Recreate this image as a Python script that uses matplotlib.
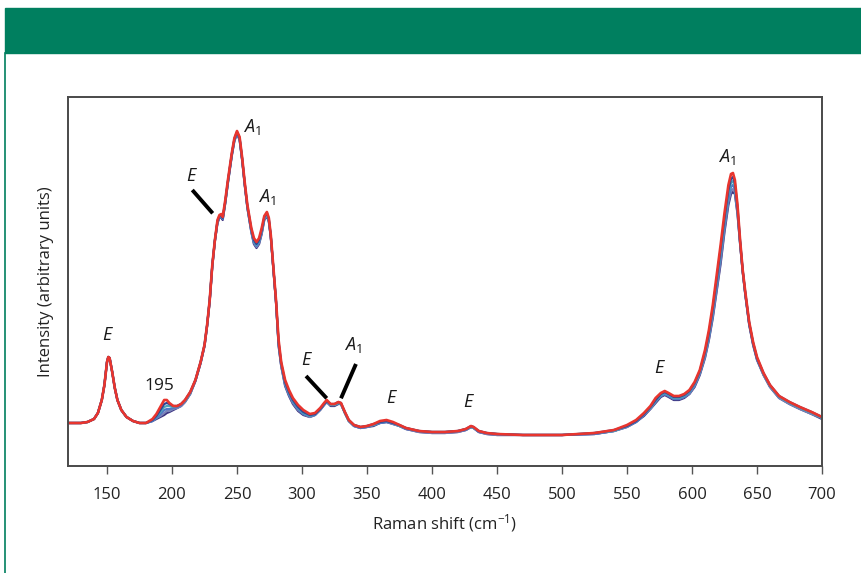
import matplotlib
matplotlib.use("Agg")
import matplotlib.pyplot as plt
from matplotlib.patches import Rectangle
from matplotlib.lines import Line2D

plt.rcParams['font.family'] = ['Open Sans', 'DejaVu Sans']
plt.rcParams['mathtext.fontset'] = 'custom'
plt.rcParams['mathtext.rm'] = 'Open Sans'
plt.rcParams['mathtext.it'] = 'Open Sans:italic'

# Raman shift (cm-1)
shift = [120, 125, 130, 135, 140, 143, 146, 148, 150, 151, 152, 154, 156, 158, 161, 165, 170, 175, 180,
         185, 188, 191, 194, 196, 198, 201, 204, 207, 210, 214,
         218, 222, 225, 227, 229, 231, 233, 235, 236.5, 238, 239, 241, 243, 246, 248, 250, 252, 254, 256, 258,
         261, 263, 265, 267, 269, 271, 273, 274.5,
         276, 278, 280, 282, 284, 287, 290, 293, 297, 301, 306, 310, 314, 317,
         319, 322, 325, 328, 330, 333, 336, 340,
         345, 350, 355, 360, 365, 370, 375, 380, 390, 400, 410, 420, 426, 430, 432, 436, 442, 450,
         470, 500, 525, 540, 550, 557,
         563, 568, 572, 576, 579, 582, 586, 590, 594, 598, 602, 606, 610, 613, 616, 619, 622, 625, 628, 630,
         631.5, 633, 635, 637, 639,
         641, 644, 647, 650, 655, 660, 667, 675, 683, 692, 700]

# intensities (arbitrary units), one list per spectrum
red = [43, 43, 43, 44, 47, 53, 66, 81, 104, 109, 108, 94, 78, 66, 56, 49, 45, 43, 43,
       47, 52, 59, 66, 66, 63, 60, 60, 62, 66, 74,
       86, 104, 121, 141, 166, 201, 226, 246, 251, 252, 249, 266, 286, 313, 328, 335, 329, 308, 283, 261,
       238, 228, 224, 228, 238, 250, 254, 248,
       231, 198, 166, 126, 104, 86, 76, 68, 61, 56, 52, 53, 58, 63,
       66, 62, 62, 64, 63, 54, 46, 41,
       39, 40, 42, 45, 46, 44, 41, 38, 35, 34, 34, 35, 37, 40, 39, 35, 33, 32,
       31, 31, 33, 36, 41, 46,
       53, 60, 68, 73, 75, 73, 70, 70, 72, 76, 84, 96, 116, 136, 161, 191, 221, 253, 281, 292,
       293, 286, 261, 226, 196,
       174, 144, 124, 109, 93, 81, 70, 64, 59, 54, 49]
dkblue = [43, 43, 43, 44, 47, 53, 66, 81, 104, 109, 108, 94, 78, 66, 56, 49, 45, 43, 43,
          46, 50, 56, 62, 63, 62, 60, 60, 62, 66, 74,
          86, 104, 121, 141, 166, 201, 226, 245, 250, 251, 248, 265, 285, 312, 327, 334, 328, 307, 282, 260,
          237, 226, 222, 226, 236, 249, 253, 247,
          230, 197, 165, 124, 103, 84, 74, 66, 59, 54, 51, 52, 57, 62,
          65, 62, 62, 64, 63, 54, 46, 41,
          39, 40, 42, 44, 45, 43, 41, 38, 35, 34, 34, 35, 37, 40, 39, 35, 33, 32,
          31, 31, 33, 36, 40, 45,
          52, 59, 66, 72, 74, 72, 69, 69, 71, 75, 83, 95, 114, 133, 158, 187, 217, 248, 276, 287,
          289, 283, 259, 225, 196,
          173, 143, 123, 108, 93, 81, 70, 64, 59, 54, 49]
teal = [43, 43, 43, 44, 47, 53, 66, 81, 104, 109, 108, 94, 78, 66, 56, 49, 45, 43, 43,
        46, 49, 54, 59, 60, 60, 59, 60, 62, 65, 73,
        86, 104, 121, 141, 166, 201, 226, 245, 250, 251, 248, 264, 284, 312, 327, 334, 328, 307, 282, 259,
        236, 225, 221, 225, 235, 248, 252, 246,
        230, 197, 165, 123, 102, 83, 73, 65, 58, 53, 50, 52, 57, 62,
        65, 61, 61, 63, 62, 53, 45, 41,
        39, 40, 41, 44, 45, 43, 40, 38, 35, 34, 34, 35, 37, 39, 38, 35, 33, 32,
        31, 31, 33, 35, 40, 45,
        52, 58, 65, 71, 73, 71, 68, 68, 70, 74, 82, 94, 112, 131, 155, 184, 213, 244, 272, 283,
        285, 280, 257, 224, 195,
        173, 143, 123, 108, 92, 80, 69, 63, 58, 53, 48]
blue = [43, 43, 43, 44, 47, 53, 66, 81, 104, 109, 108, 94, 78, 66, 56, 49, 45, 43, 43,
        45, 48, 52, 56, 57, 57, 58, 59, 61, 65, 73,
        85, 103, 120, 140, 165, 200, 225, 244, 249, 250, 247, 264, 284, 311, 326, 333, 327, 306, 281, 259,
        235, 224, 220, 224, 234, 247, 251, 245,
        229, 196, 164, 122, 101, 82, 72, 64, 57, 52, 50, 51, 57, 62,
        64, 61, 61, 63, 62, 53, 45, 40,
        38, 39, 41, 43, 44, 43, 40, 37, 35, 34, 34, 35, 36, 39, 38, 34, 33, 32,
        31, 31, 32, 35, 40, 44,
        51, 58, 65, 70, 72, 70, 67, 67, 69, 73, 81, 93, 111, 129, 152, 180, 209, 240, 268, 279,
        281, 277, 255, 223, 195,
        172, 142, 122, 107, 92, 80, 69, 63, 58, 53, 48]
slate = [43, 43, 43, 44, 47, 53, 66, 81, 104, 109, 108, 94, 78, 66, 56, 49, 45, 43, 43,
         45, 48, 50, 53, 55, 55, 57, 58, 60, 64, 72,
         85, 103, 120, 140, 165, 200, 225, 244, 249, 250, 247, 263, 283, 311, 326, 333, 327, 306, 281, 258,
         235, 223, 219, 223, 233, 247, 251, 245,
         229, 196, 164, 121, 100, 81, 71, 63, 56, 52, 49, 51, 56, 61,
         64, 61, 61, 63, 62, 53, 45, 40,
         38, 39, 41, 43, 44, 42, 40, 37, 34, 33, 33, 34, 36, 39, 38, 34, 32, 31,
         31, 31, 32, 35, 39, 44,
         51, 57, 64, 70, 72, 70, 67, 67, 69, 72, 80, 92, 109, 127, 150, 177, 205, 237, 264, 275,
         277, 274, 253, 222, 194,
         172, 142, 122, 107, 91, 79, 68, 62, 57, 52, 48]
navy = [43, 43, 43, 44, 47, 53, 66, 81, 104, 109, 108, 94, 78, 66, 56, 49, 45, 43, 43,
        45, 47, 49, 51, 53, 54, 56, 58, 60, 64, 72,
        85, 103, 120, 140, 165, 200, 225, 243, 248, 249, 246, 263, 283, 310, 325, 332, 326, 305, 280, 258,
        234, 222, 218, 222, 232, 246, 250, 244,
        229, 196, 164, 120, 100, 80, 70, 62, 55, 51, 49, 51, 56, 61,
        64, 60, 60, 62, 62, 53, 45, 40,
        38, 39, 40, 43, 44, 42, 40, 37, 34, 33, 33, 34, 36, 39, 38, 34, 32, 31,
        31, 31, 32, 35, 39, 44,
        50, 57, 63, 69, 71, 69, 66, 66, 68, 72, 79, 91, 108, 126, 148, 175, 202, 234, 261, 272,
        274, 272, 252, 222, 194,
        171, 141, 121, 106, 91, 79, 68, 62, 57, 52, 47]

xticks = [150, 200, 250, 300, 350, 400, 450, 500, 550, 600, 650, 700]

fig = plt.figure(figsize=(8.62, 5.73), dpi=100)

# green banner and left border
green = '#007f5f'
fig.add_artist(Rectangle((5 / 862, 1 - 53 / 573), 857 / 862, 45 / 573,
                         transform=fig.transFigure, color=green, zorder=0))
fig.add_artist(Line2D([5.5 / 862, 5.5 / 862], [0, 1 - 53 / 573],
                      transform=fig.transFigure, color=green, lw=1.2))

ax = fig.add_axes([68 / 862, 1 - 466 / 573, 754 / 862, 369 / 573])

ax.plot(shift, navy, color='#3b3380', lw=1.6)
ax.plot(shift, slate, color='#7a82b8', lw=1.6)
ax.plot(shift, blue, color='#4f78c6', lw=1.6)
ax.plot(shift, teal, color='#4fa3b8', lw=1.6)
ax.plot(shift, dkblue, color='#2b4597', lw=1.6)
ax.plot(shift, red, color='#e8352e', lw=1.9)

ax.set_xlim(120, 700)
ax.set_ylim(0, 369)
ax.set_xticks(xticks)
ax.set_yticks([])
ax.tick_params(axis='x', direction='out', length=6, width=1, color='#555555',
               labelsize=12, pad=9, labelcolor='#222222')
for s in ax.spines.values():
    s.set_color('#4a4a4a')
    s.set_linewidth(1.4)

ax.set_xlabel('Raman shift (cm$^{-1}$)', fontsize=12, color='#222222', labelpad=7)
ax.set_ylabel('Intensity (arbitrary units)', fontsize=12, color='#222222', labelpad=10)

# peak labels
lab = dict(fontsize=13, color='#1a1a1a', ha='left', va='baseline')
ax.text(146.5, 126, '$E$', **lab)
ax.text(179, 76, '195', fontsize=12.5, color='#1a1a1a', ha='left', va='baseline')
ax.text(210.8, 285, '$E$', **lab)
ax.text(254.6, 334, '$A_1$', **lab)
ax.text(266, 264, '$A_1$', **lab)
ax.text(298.9, 101, '$E$', **lab)
ax.text(332.3, 116, '$A_1$', **lab)
ax.text(364.6, 63, '$E$', **lab)
ax.text(423.6, 59, '$E$', **lab)
ax.text(570.8, 93, '$E$', **lab)
ax.text(620, 304, '$A_1$', **lab)

# pointer lines
ax.plot([215.6, 231.3], [276, 252.7], color='k', lw=2.8, solid_capstyle='butt')
ax.plot([303.1, 319], [90, 67.7], color='k', lw=2.8, solid_capstyle='butt')
ax.plot([341.5, 330], [102, 67.7], color='k', lw=2.8, solid_capstyle='butt')

fig.savefig('out.png', dpi=100)
